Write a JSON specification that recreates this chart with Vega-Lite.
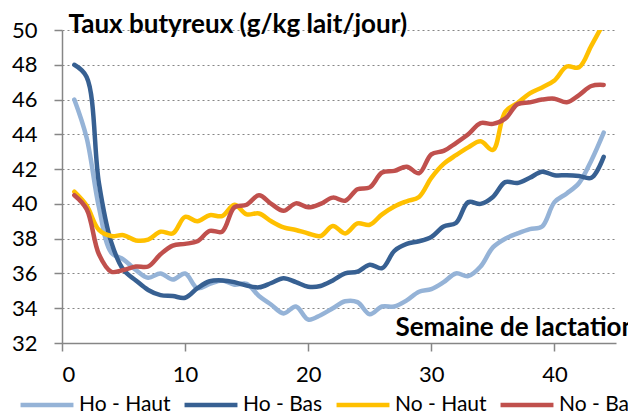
{
  "$schema": "https://vega.github.io/schema/vega-lite/v6.json",
  "autosize": {"type": "none"},
  "width": 554,
  "height": 313,
  "padding": {"left": 62, "top": 30, "right": 12, "bottom": 72},
  "background": "white",
  "config": {
    "view": {"stroke": null},
    "font": "Lato",
    "axis": {"labelFont": "Lato", "labelFontSize": 22, "labelColor": "#000000", "titleFont": "Lato", "titleFontSize": 26, "titleFontWeight": "bold", "titleColor": "#000000", "domainColor": "#868686", "domainWidth": 1.5, "tickColor": "#868686", "tickWidth": 1.5, "tickSize": 8}
  },
  "data": {
    "values": [
      {"semaine": 1, "Ho - Haut": 46.0, "Ho - Bas": 48.0, "No - Haut": 40.7, "No - Bas": 40.5},
      {"semaine": 2, "Ho - Haut": 43.8, "Ho - Bas": 47.3, "No - Haut": 39.9, "No - Bas": 39.7},
      {"semaine": 3, "Ho - Haut": 39.8, "Ho - Bas": 41.2, "No - Haut": 38.5, "No - Bas": 37.1},
      {"semaine": 4, "Ho - Haut": 37.2, "Ho - Bas": 37.8, "No - Haut": 38.15, "No - Bas": 36.1},
      {"semaine": 5, "Ho - Haut": 36.8, "Ho - Bas": 36.2, "No - Haut": 38.2, "No - Bas": 36.2},
      {"semaine": 6, "Ho - Haut": 36.2, "Ho - Bas": 35.6, "No - Haut": 37.9, "No - Bas": 36.4},
      {"semaine": 7, "Ho - Haut": 35.75, "Ho - Bas": 35.05, "No - Haut": 37.95, "No - Bas": 36.4},
      {"semaine": 8, "Ho - Haut": 36.0, "Ho - Bas": 34.75, "No - Haut": 38.4, "No - Bas": 37.1},
      {"semaine": 9, "Ho - Haut": 35.65, "Ho - Bas": 34.7, "No - Haut": 38.3, "No - Bas": 37.6},
      {"semaine": 10, "Ho - Haut": 36.0, "Ho - Bas": 34.6, "No - Haut": 39.25, "No - Bas": 37.7},
      {"semaine": 11, "Ho - Haut": 35.15, "Ho - Bas": 35.15, "No - Haut": 39.0, "No - Bas": 37.85},
      {"semaine": 12, "Ho - Haut": 35.4, "Ho - Bas": 35.55, "No - Haut": 39.35, "No - Bas": 38.45},
      {"semaine": 13, "Ho - Haut": 35.6, "Ho - Bas": 35.6, "No - Haut": 39.3, "No - Bas": 38.4},
      {"semaine": 14, "Ho - Haut": 35.35, "Ho - Bas": 35.5, "No - Haut": 39.95, "No - Bas": 39.8},
      {"semaine": 15, "Ho - Haut": 35.4, "Ho - Bas": 35.3, "No - Haut": 39.4, "No - Bas": 39.95},
      {"semaine": 16, "Ho - Haut": 34.7, "Ho - Bas": 35.2, "No - Haut": 39.45, "No - Bas": 40.5},
      {"semaine": 17, "Ho - Haut": 34.2, "Ho - Bas": 35.45, "No - Haut": 39.0, "No - Bas": 40.0},
      {"semaine": 18, "Ho - Haut": 33.7, "Ho - Bas": 35.72, "No - Haut": 38.65, "No - Bas": 39.6},
      {"semaine": 19, "Ho - Haut": 34.1, "Ho - Bas": 35.5, "No - Haut": 38.5, "No - Bas": 40.03},
      {"semaine": 20, "Ho - Haut": 33.35, "Ho - Bas": 35.24, "No - Haut": 38.3, "No - Bas": 39.8},
      {"semaine": 21, "Ho - Haut": 33.6, "Ho - Bas": 35.28, "No - Haut": 38.15, "No - Bas": 40.0},
      {"semaine": 22, "Ho - Haut": 34.0, "Ho - Bas": 35.6, "No - Haut": 38.73, "No - Bas": 40.36},
      {"semaine": 23, "Ho - Haut": 34.4, "Ho - Bas": 36.0, "No - Haut": 38.3, "No - Bas": 40.18},
      {"semaine": 24, "Ho - Haut": 34.35, "Ho - Bas": 36.1, "No - Haut": 38.88, "No - Bas": 40.84},
      {"semaine": 25, "Ho - Haut": 33.65, "Ho - Bas": 36.5, "No - Haut": 38.8, "No - Bas": 40.95},
      {"semaine": 26, "Ho - Haut": 34.1, "Ho - Bas": 36.3, "No - Haut": 39.4, "No - Bas": 41.8},
      {"semaine": 27, "Ho - Haut": 34.1, "Ho - Bas": 37.3, "No - Haut": 39.85, "No - Bas": 41.9},
      {"semaine": 28, "Ho - Haut": 34.45, "Ho - Bas": 37.7, "No - Haut": 40.15, "No - Bas": 42.14},
      {"semaine": 29, "Ho - Haut": 34.95, "Ho - Bas": 37.85, "No - Haut": 40.4, "No - Bas": 41.76},
      {"semaine": 30, "Ho - Haut": 35.1, "Ho - Bas": 38.1, "No - Haut": 41.5, "No - Bas": 42.85},
      {"semaine": 31, "Ho - Haut": 35.5, "Ho - Bas": 38.7, "No - Haut": 42.3, "No - Bas": 43.05},
      {"semaine": 32, "Ho - Haut": 36.0, "Ho - Bas": 38.9, "No - Haut": 42.8, "No - Bas": 43.5},
      {"semaine": 33, "Ho - Haut": 35.85, "Ho - Bas": 40.1, "No - Haut": 43.25, "No - Bas": 44.0},
      {"semaine": 34, "Ho - Haut": 36.4, "Ho - Bas": 40.0, "No - Haut": 43.6, "No - Bas": 44.65},
      {"semaine": 35, "Ho - Haut": 37.5, "Ho - Bas": 40.4, "No - Haut": 43.1, "No - Bas": 44.6},
      {"semaine": 36, "Ho - Haut": 38.0, "Ho - Bas": 41.25, "No - Haut": 45.3, "No - Bas": 44.9},
      {"semaine": 37, "Ho - Haut": 38.3, "Ho - Bas": 41.2, "No - Haut": 45.8, "No - Bas": 45.73},
      {"semaine": 38, "Ho - Haut": 38.55, "Ho - Bas": 41.5, "No - Haut": 46.36, "No - Bas": 45.84},
      {"semaine": 39, "Ho - Haut": 38.7, "Ho - Bas": 41.85, "No - Haut": 46.7, "No - Bas": 46.0},
      {"semaine": 40, "Ho - Haut": 40.1, "Ho - Bas": 41.65, "No - Haut": 47.1, "No - Bas": 46.05},
      {"semaine": 41, "Ho - Haut": 40.6, "Ho - Bas": 41.65, "No - Haut": 47.9, "No - Bas": 45.84},
      {"semaine": 42, "Ho - Haut": 41.2, "Ho - Bas": 41.6, "No - Haut": 47.85, "No - Bas": 46.26},
      {"semaine": 43, "Ho - Haut": 42.5, "Ho - Bas": 41.5, "No - Haut": 49.1, "No - Bas": 46.78},
      {"semaine": 44, "Ho - Haut": 44.1, "Ho - Bas": 42.7, "No - Haut": 50.4, "No - Bas": 46.84}
    ]
  },
  "transform": [
    {"fold": ["Ho - Haut", "Ho - Bas", "No - Haut", "No - Bas"], "as": ["serie", "taux"]}
  ],
  "mark": {"type": "line", "interpolate": "catmull-rom", "strokeWidth": 4.5, "strokeCap": "round", "strokeJoin": "round", "clip": true},
  "encoding": {
    "x": {
      "field": "semaine", "type": "quantitative",
      "scale": {"domain": [0, 45], "nice": false, "zero": false},
      "axis": {"values": [0, 10, 20, 30, 40], "grid": false, "labelPadding": 13, "title": "Semaine de lactation", "titleAnchor": "start", "titleAlign": "left", "titleBaseline": "alphabetic", "titleX": 333, "titleY": -8}
    },
    "y": {
      "field": "taux", "type": "quantitative",
      "scale": {"domain": [32, 50], "nice": false, "zero": false},
      "axis": {"values": [32, 34, 36, 38, 40, 42, 44, 46, 48, 50], "grid": true, "gridColor": "#868686", "gridDash": [2, 3], "gridWidth": 1.2, "labelPadding": 17, "title": "Taux butyreux (g/kg lait/jour)", "titleAngle": 0, "titleAlign": "left", "titleBaseline": "alphabetic", "titleX": 6, "titleY": 2}
    },
    "color": {
      "field": "serie", "type": "nominal",
      "scale": {"domain": ["Ho - Haut", "Ho - Bas", "No - Haut", "No - Bas"], "range": ["#95B3D7", "#376092", "#FFC000", "#C0504D"]},
      "legend": {"title": null, "orient": "none", "direction": "horizontal", "legendX": -44, "legendY": 346, "symbolType": "stroke", "symbolSize": 2800, "symbolStrokeWidth": 4.5, "labelFont": "Lato", "labelFontSize": 21, "labelColor": "#000000", "labelOffset": 3, "columnPadding": 4, "labelLimit": 200}
    }
  }
}
